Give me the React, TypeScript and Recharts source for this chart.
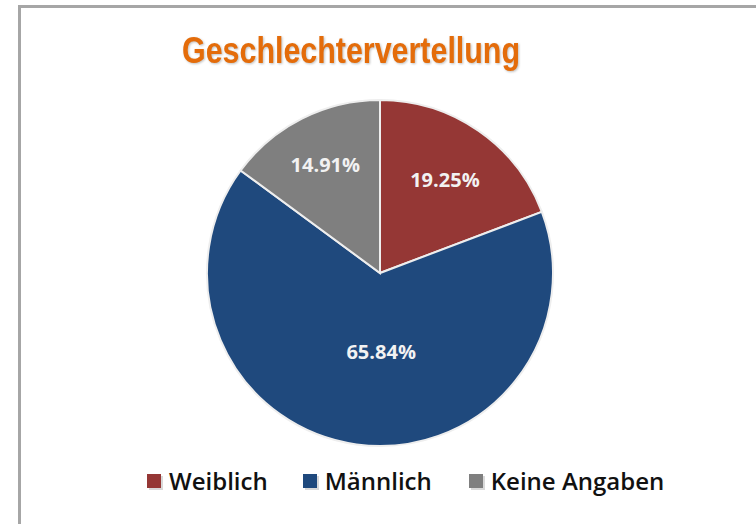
import React from "react";
import { PieChart, Pie, Cell } from "recharts";

const categories = ["Weiblich", "Männlich", "Keine Angaben"];
const shares = [19.25, 65.84, 14.91];
const colors = ["#953735", "#1F497D", "#7F7F7F"];
const title = "Geschlechtervertellung";

const data = categories.map((name, i) => ({ name, value: shares[i] }));

const RAD = Math.PI / 180;

const renderLabel = (props: any) => {
  const { cx, cy, midAngle, outerRadius, percent, index } = props;
  const f = percent > 0.5 ? 0.46 : index === 0 ? 0.66 : 0.7;
  const r = outerRadius * f;
  const x = cx + r * Math.cos(-midAngle * RAD) + (percent > 0.5 ? 12 : 0);
  const y = cy + r * Math.sin(-midAngle * RAD);
  return (
    <text
      x={x}
      y={y}
      fill="#F2F2F2"
      textAnchor="middle"
      dominantBaseline="central"
      fontFamily="'Open Sans', sans-serif"
      fontWeight={700}
      fontSize={20}
    >
      {shares[index].toFixed(2)}%
    </text>
  );
};

export default function App() {
  return (
    <div style={{ position: "absolute", left: 0, top: 0, width: 756, height: 524, background: "#fff", overflow: "hidden" }}>
      <div
        style={{
          position: "absolute",
          left: 18,
          top: 5,
          width: 800,
          height: 600,
          borderLeft: "3px solid #A6A6A6",
          borderTop: "3px solid #A6A6A6",
        }}
      />
      <svg width={756} height={100} style={{ position: "absolute", left: 0, top: 0 }}>
        <text
          x={182}
          y={63}
          fill="#E46C0A"
          fontFamily="'Liberation Sans', Arial, sans-serif"
          fontWeight={700}
          fontSize={37}
          textLength={338}
          lengthAdjust="spacingAndGlyphs"
          style={{ filter: "drop-shadow(1px 1px 1px rgba(0,0,0,0.25))" }}
        >
          {title}
        </text>
      </svg>
      <div style={{ position: "absolute", left: 0, top: 0 }}>
        <PieChart width={756} height={460} margin={{ top: 0, right: 0, bottom: 0, left: 0 }}>
          <Pie
            data={data}
            dataKey="value"
            nameKey="name"
            cx={380}
            cy={273}
            outerRadius={173}
            startAngle={90}
            endAngle={-270}
            stroke="#EEEEEE"
            strokeWidth={2}
            label={renderLabel}
            labelLine={false}
            isAnimationActive={false}
          >
            {data.map((d, i) => (
              <Cell key={d.name} fill={colors[i]} />
            ))}
          </Pie>
        </PieChart>
      </div>
      <div
        style={{
          position: "absolute",
          left: 147,
          top: 464,
          display: "flex",
          alignItems: "center",
          fontFamily: "'Open Sans', sans-serif",
          fontWeight: 600,
          fontSize: 24,
          color: "#111",
          whiteSpace: "nowrap",
        }}
      >
        {categories.map((c, i) => (
          <div key={c} style={{ display: "flex", alignItems: "center", marginRight: i === 0 ? 35 : 37 }}>
            <div
              style={{
                width: 14,
                height: 14,
                background: colors[i],
                boxShadow: "2px 2px 0 rgba(0,0,0,0.15)",
                marginRight: 8,
              }}
            />
            <span>{c}</span>
          </div>
        ))}
      </div>
    </div>
  );
}
